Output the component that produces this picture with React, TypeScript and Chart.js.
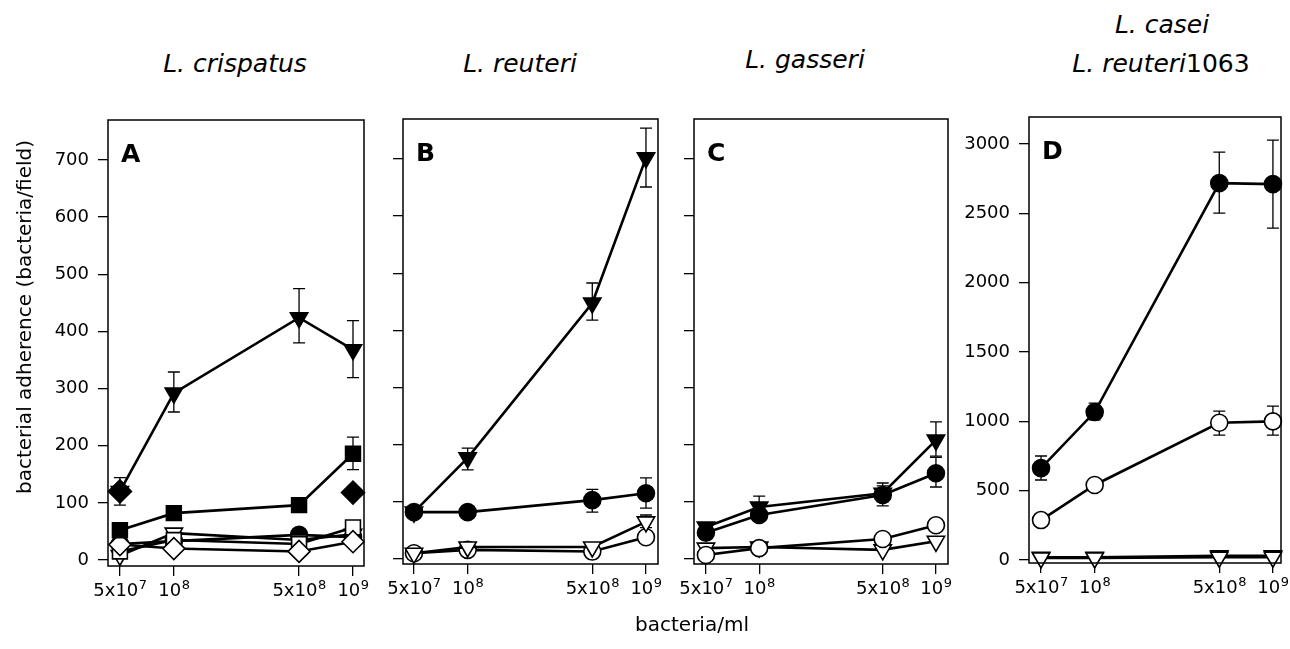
import React, { useEffect, useRef } from "react";
import { Chart, registerables } from "chart.js";

Chart.register(...registerables);

const FONT = "'DejaVu Sans', 'Liberation Sans', sans-serif";

// ---------- data ----------
const doses = [5e7, 1e8, 5e8, 1e9];
const doseBase = ["5x10", "10", "5x10", "10"];
const doseExp = ["7", "8", "8", "9"];
const ticksABC = [0, 100, 200, 300, 400, 500, 600, 700];
const ticksD = [0, 500, 1000, 1500, 2000, 2500, 3000];

const panelTitles = ["L. crispatus", "L. reuteri", "L. gasseri"];
const panelLetters = ["A", "B", "C", "D"];
const yAxisTitle = "bacterial adherence (bacteria/field)";
const xAxisTitle = "bacteria/ml";

type Err = [number, number] | null;

// Panel A – L. crispatus
const aFilledTri = [120, 292, 424, 368];
const aFilledTriErr: Err[] = [[96, 144], [259, 329], [380, 475], [319, 419]];
const aFilledDiamond = [120, null, null, 118];
const aFilledSquare = [52, 82, 96, 186];
const aFilledSquareErr: Err[] = [[42, 65], [74, 92], null, [158, 215]];
const aFilledCircle = [28, 33, 44, 40];
const aOpenTri = [8, 47, 35, 45];
const aOpenSquare = [15, 35, 28, 57];
const aOpenDiamond = [27, 20, 15, 32];

// Panel B – L. reuteri
const bFilledTri = [82, 177, 448, 702];
const bFilledTriErr: Err[] = [null, [156, 194], [418, 483], [651, 754]];
const bFilledCircle = [82, 82, 103, 115];
const bFilledCircleErr: Err[] = [null, null, [82, 122], [89, 142]];
const bOpenTri = [10, 21, 21, 65];
const bOpenTriErr: Err[] = [null, null, null, [55, 77]];
const bOpenCircle = [10, 16, 13, 38];

// Panel C – L. gasseri
const cFilledTri = [56, 91, 115, 208];
const cFilledTriErr: Err[] = [[48, 62], [76, 110], [100, 133], [180, 240]];
const cFilledCircle = [46, 77, 112, 150];
const cFilledCircleErr: Err[] = [null, null, [93, 128], [126, 178]];
const cOpenCircle = [7, 19, 35, 59];
const cOpenTri = [19, 21, 16, 31];

// Panel D – L. casei / L. reuteri 1063
const dFilledCircle = [663, 1067, 2718, 2711];
const dFilledCircleErr: Err[] = [[577, 750], [1010, 1132], [2502, 2942], [2394, 3028]];
const dOpenCircle = [288, 541, 990, 1000];
const dOpenCircleErr: Err[] = [null, null, [901, 1074], [901, 1110]];
const dFilledTri = [20, 20, 30, 30];
const dOpenTri = [15, 15, 20, 20];

// ---------- styles ----------
const STYLES: Record<string, { ps: string; rot: number; fill: string; r: number }> = {
  filledTri: { ps: "triangle", rot: 180, fill: "#000", r: 10 },
  openTri: { ps: "triangle", rot: 180, fill: "#fff", r: 10 },
  filledCircle: { ps: "circle", rot: 0, fill: "#000", r: 8.5 },
  openCircle: { ps: "circle", rot: 0, fill: "#fff", r: 8.5 },
  filledSquare: { ps: "rect", rot: 0, fill: "#000", r: 10.5 },
  openSquare: { ps: "rect", rot: 0, fill: "#fff", r: 10.5 },
  filledDiamond: { ps: "rectRot", rot: 0, fill: "#000", r: 11.5 },
  openDiamond: { ps: "rectRot", rot: 0, fill: "#fff", r: 11 },
};

function series(values: (number | null)[], style: string, err?: Err[], line = true) {
  const s = STYLES[style];
  const data: { x: number; y: number }[] = [];
  values.forEach((v, i) => {
    if (v !== null) data.push({ x: doses[i], y: v });
  });
  const errorBars: { x: number; lo: number; hi: number }[] = [];
  (err || []).forEach((e, i) => {
    if (e) errorBars.push({ x: doses[i], lo: e[0], hi: e[1] });
  });
  return {
    type: "line",
    data,
    errorBars,
    showLine: line,
    borderColor: "#000",
    borderWidth: 2.6,
    fill: false,
    tension: 0,
    clip: false,
    pointStyle: s.ps,
    pointRotation: s.rot,
    pointRadius: s.r,
    pointHoverRadius: s.r,
    pointBackgroundColor: s.fill,
    pointBorderColor: "#000",
    pointBorderWidth: 1.6,
  };
}

const errorBarPlugin = {
  id: "errorBars",
  beforeDatasetsDraw(chart: any) {
    const ctx = chart.ctx;
    const xs = chart.scales.x;
    const ys = chart.scales.y;
    ctx.save();
    ctx.strokeStyle = "#000";
    ctx.lineWidth = 1.3;
    chart.data.datasets.forEach((ds: any) => {
      (ds.errorBars || []).forEach((e: any) => {
        const px = xs.getPixelForValue(e.x);
        const p1 = ys.getPixelForValue(e.lo);
        const p2 = ys.getPixelForValue(e.hi);
        ctx.beginPath();
        ctx.moveTo(px, p1);
        ctx.lineTo(px, p2);
        ctx.moveTo(px - 6, p1);
        ctx.lineTo(px + 6, p1);
        ctx.moveTo(px - 6, p2);
        ctx.lineTo(px + 6, p2);
        ctx.stroke();
      });
    });
    ctx.restore();
  },
};

const boxPlugin = {
  id: "panelBox",
  afterDraw(chart: any) {
    const { ctx, chartArea } = chart;
    const letter = chart.options.plugins.panelBox?.letter || "";
    ctx.save();
    ctx.strokeStyle = "#000";
    ctx.lineWidth = 1.5;
    ctx.strokeRect(chartArea.left, chartArea.top, chartArea.right - chartArea.left, chartArea.bottom - chartArea.top);
    ctx.fillStyle = "#000";
    ctx.font = `bold 25px ${FONT}`;
    ctx.textBaseline = "alphabetic";
    ctx.textAlign = "left";
    ctx.fillText(letter, chartArea.left + 13, chartArea.top + 42);

    // x tick labels with superscript exponents, placed by the x scale
    const xs = chart.scales.x;
    const baseY = chartArea.bottom + 30;
    doses.forEach((d, i) => {
      const px = xs.getPixelForValue(d);
      ctx.font = `18px ${FONT}`;
      const wb = ctx.measureText(doseBase[i]).width;
      ctx.font = `13px ${FONT}`;
      const we = ctx.measureText(doseExp[i]).width;
      const start = px - (wb + we) / 2;
      ctx.font = `18px ${FONT}`;
      ctx.fillText(doseBase[i], start, baseY);
      ctx.font = `13px ${FONT}`;
      ctx.fillText(doseExp[i], start + wb + 0.5, baseY - 7);
    });
    ctx.restore();
  },
};

interface Box { l: number; t: number; r: number; b: number }

const PL = 80, PT = 14, PR = 14, PB = 50;

function Panel(props: {
  box: Box;
  yMin: number;
  yMax: number;
  yTicks: number[];
  xMin: number;
  xMax: number;
  showY: boolean;
  datasets: any[];
  letter: string;
}) {
  const ref = useRef<HTMLCanvasElement>(null);
  const { box } = props;
  const w = box.r - box.l + PL + PR;
  const h = box.b - box.t + PT + PB;
  useEffect(() => {
    const chart = new Chart(ref.current as HTMLCanvasElement, {
      type: "line",
      data: { datasets: props.datasets },
      options: {
        animation: false,
        responsive: false,
        maintainAspectRatio: false,
        devicePixelRatio: 1,
        layout: { padding: { left: 0, top: PT, right: PR, bottom: 0 } },
        plugins: {
          legend: { display: false },
          tooltip: { enabled: false },
          panelBox: { letter: props.letter },
        } as any,
        scales: {
          x: {
            type: "logarithmic",
            position: "bottom",
            min: props.xMin,
            max: props.xMax,
            afterBuildTicks: (scale: any) => {
              scale.ticks = doses.map((v) => ({ value: v }));
            },
            afterFit: (scale: any) => {
              scale.height = PB;
              scale.paddingLeft = 0;
              scale.paddingRight = 0;
            },
            grid: { display: true, drawOnChartArea: false, drawTicks: true, tickLength: 10, color: "#000", lineWidth: 1.3 },
            border: { display: false },
            ticks: { display: false, autoSkip: false, maxRotation: 0 },
          },
          y: {
            type: "linear",
            position: "left",
            min: props.yMin,
            max: props.yMax,
            afterBuildTicks: (scale: any) => {
              scale.ticks = props.yTicks.map((v) => ({ value: v }));
            },
            afterFit: (scale: any) => {
              scale.width = PL;
              scale.paddingTop = 0;
              scale.paddingBottom = 0;
            },
            grid: { display: true, drawOnChartArea: false, drawTicks: true, tickLength: 10, color: "#000", lineWidth: 1.3 },
            border: { display: false },
            ticks: {
              display: props.showY,
              padding: 9,
              color: "#000",
              font: { family: FONT, size: 18 },
              callback: (v: any) => String(v),
            },
          },
        },
      } as any,
      plugins: [errorBarPlugin, boxPlugin],
    } as any);
    return () => chart.destroy();
  }, []);
  return (
    <canvas
      ref={ref}
      width={w}
      height={h}
      style={{ position: "absolute", left: box.l - PL, top: box.t - PT, width: w, height: h }}
    />
  );
}

const titleStyle: React.CSSProperties = {
  position: "absolute",
  fontFamily: FONT,
  fontSize: 25,
  lineHeight: "25px",
  whiteSpace: "nowrap",
  transform: "translateX(-50%)",
  color: "#000",
};

export default function App() {
  const datasetsA = [
    series(aFilledDiamond, "filledDiamond", undefined, false),
    series(aFilledTri, "filledTri", aFilledTriErr),
    series(aFilledSquare, "filledSquare", aFilledSquareErr),
    series(aOpenDiamond, "openDiamond"),
    series(aOpenSquare, "openSquare"),
    series(aOpenTri, "openTri"),
    series(aFilledCircle, "filledCircle"),
  ];
  const datasetsB = [
    series(bFilledTri, "filledTri", bFilledTriErr),
    series(bFilledCircle, "filledCircle", bFilledCircleErr),
    series(bOpenTri, "openTri", bOpenTriErr),
    series(bOpenCircle, "openCircle"),
  ];
  const datasetsC = [
    series(cFilledCircle, "filledCircle", cFilledCircleErr),
    series(cFilledTri, "filledTri", cFilledTriErr),
    series(cOpenCircle, "openCircle"),
    series(cOpenTri, "openTri"),
  ];
  const datasetsD = [
    series(dFilledCircle, "filledCircle", dFilledCircleErr),
    series(dOpenCircle, "openCircle", dOpenCircleErr),
    series(dOpenTri, "openTri"),
    series(dFilledTri, "filledTri"),
  ];

  return (
    <div
      style={{
        position: "absolute",
        left: 0,
        top: 0,
        width: 1290,
        height: 649,
        background: "#fff",
        overflow: "hidden",
        fontFamily: FONT,
      }}
    >
      <Panel box={{ l: 108, t: 120, r: 364, b: 566 }} yMin={-10.5} yMax={770} yTicks={ticksABC}
        xMin={4.29e7} xMax={1.152e9} showY={true} datasets={datasetsA} letter={panelLetters[0]} />
      <Panel box={{ l: 403, t: 119, r: 658, b: 564 }} yMin={-8.75} yMax={770} yTicks={ticksABC}
        xMin={4.34e7} xMax={1.168e9} showY={false} datasets={datasetsB} letter={panelLetters[1]} />
      <Panel box={{ l: 694, t: 119, r: 948, b: 564 }} yMin={-8.75} yMax={770} yTicks={ticksABC}
        xMin={4.28e7} xMax={1.17e9} showY={false} datasets={datasetsC} letter={panelLetters[2]} />
      <Panel box={{ l: 1029, t: 117, r: 1281, b: 563 }} yMin={-21.6} yMax={3195} yTicks={ticksD}
        xMin={4.28e7} xMax={1.11e9} showY={true} datasets={datasetsD} letter={panelLetters[3]} />

      <div style={{ ...titleStyle, left: 235, top: 51, fontStyle: "italic" }}>{panelTitles[0]}</div>
      <div style={{ ...titleStyle, left: 520, top: 51, fontStyle: "italic" }}>{panelTitles[1]}</div>
      <div style={{ ...titleStyle, left: 805, top: 47, fontStyle: "italic" }}>{panelTitles[2]}</div>
      <div style={{ ...titleStyle, left: 1162, top: 12, fontStyle: "italic" }}>L. casei</div>
      <div style={{ ...titleStyle, left: 1161, top: 51 }}>
        <span style={{ fontStyle: "italic" }}>L. reuteri</span>1063
      </div>

      <div
        style={{
          position: "absolute",
          left: 24,
          top: 317,
          fontSize: 20,
          lineHeight: "20px",
          whiteSpace: "nowrap",
          transform: "translate(-50%, -50%) rotate(-90deg)",
        }}
      >
        {yAxisTitle}
      </div>
      <div
        style={{
          position: "absolute",
          left: 692,
          top: 614,
          fontSize: 20,
          lineHeight: "20px",
          whiteSpace: "nowrap",
          transform: "translateX(-50%)",
        }}
      >
        {xAxisTitle}
      </div>
    </div>
  );
}
